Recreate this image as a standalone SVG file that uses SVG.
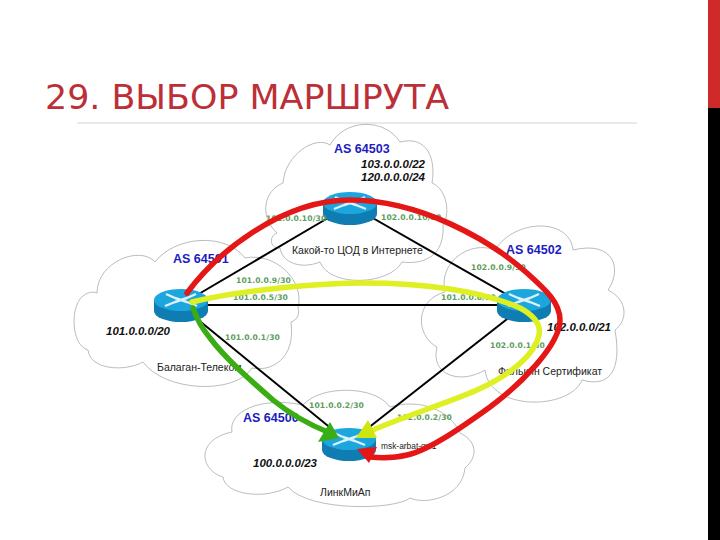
<svg xmlns="http://www.w3.org/2000/svg" width="720" height="540" viewBox="0 0 720 540">
<style>
.cloud{fill:#fff;stroke:#a6acac;stroke-width:.8}
.as{font:bold 12.5px "Liberation Sans",Arial,sans-serif;fill:#1c1cc0}
.pfx{font:italic bold 11.5px "Liberation Sans",Arial,sans-serif;fill:#111}
.ip{font:bold 7.6px "DejaVu Sans",sans-serif;fill:#5c9c5c;letter-spacing:.1px}
.name{font:10.5px "Liberation Sans",Arial,sans-serif;fill:#222}
.link{stroke:#000;stroke-width:2;fill:none}
.route{fill:none;stroke-width:5.5;stroke-linecap:round}
.x{stroke:#fff;stroke-width:2.4;fill:none;opacity:.85}
</style>
<defs>
<g id="router">
<path d="M-27-3V8A27 11 0 0 0 27 8V-3Z" fill="#0f7db2"/>
<ellipse cy="-3" rx="27" ry="11" fill="#1ca6de"/>
<path class="x" d="M-15-9L-6-5M-6-1L-16 3M15-9L6-5M6-1L16 3M-6-5L6-1M6-5L-6-1"/>
</g>
</defs>
<rect width="720" height="540" fill="#fff"/>
<rect x="708" width="12" height="108" fill="#cf2a2a"/>
<rect x="708" y="108" width="12" height="432" fill="#000"/>
<text x="45" y="109" font-family="DejaVu Sans,sans-serif" font-size="34" fill="#bc2f38" textLength="404" lengthAdjust="spacingAndGlyphs">29. ВЫБОР МАРШРУТА</text>
<line x1="77" y1="123" x2="637" y2="123" stroke="#d4d4d4" stroke-width="1"/>

<g id="clouds">
<path class="cloud" d="M283 183C285 155 315 135 330 145C345 118 385 118 400 142C428 135 436 160 432 183C448 190 450 215 443 225C445 255 425 265 402 262C390 285 330 288 320 262C300 270 282 262 280 248C268 248 270 235 277 233C258 215 265 190 283 183Z"/>
<path class="cloud" d="M97 293C97 262 140 245 155 262C175 236 225 232 245 258C275 252 305 280 298 308C300 312 298 320 291 322C296 360 270 372 252 368C235 395 165 392 143 362C125 372 90 370 88 350C72 345 72 315 77 305C80 295 90 290 97 293Z"/>
<path class="cloud" d="M445 292C438 262 470 240 495 250C515 218 570 218 573 250C615 240 622 270 608 290C628 300 628 320 615 330C622 370 610 388 582 380C570 410 490 412 485 370C460 385 430 375 437 347C415 335 415 300 445 292Z"/>
<path class="cloud" d="M232 432C228 412 260 396 303 405C320 385 375 385 390 407C420 398 450 410 460 433C475 440 480 455 465 468C462 498 425 505 410 498C395 510 310 512 288 487C265 500 225 495 223 477C200 470 195 440 232 432Z"/>
</g>

<g id="connectors">
<line class="link" x1="350" y1="205" x2="180" y2="305"/>
<line class="link" x1="350" y1="205" x2="525" y2="305"/>
<line class="link" x1="180" y1="305" x2="525" y2="305"/>
<line class="link" x1="180" y1="305" x2="349" y2="443"/>
<line class="link" x1="525" y1="305" x2="349" y2="443"/>
</g>

<g id="n64503"><use href="#router" x="350" y="206"/>
<text class="as" x="334" y="153">AS 64503</text>
<text class="pfx" x="361" y="168">103.0.0.0/22</text>
<text class="pfx" x="361" y="181">120.0.0.0/24</text>
<text class="ip" x="266" y="221">101.0.0.10/30</text>
<text class="ip" x="381" y="220">102.0.0.10/30</text>
<text class="name" x="292" y="254">Какой-то ЦОД в Интернете</text></g>
<g id="n64501"><use href="#router" x="181" y="303"/>
<text class="as" x="173" y="263">AS 64501</text>
<text class="pfx" x="106" y="335">101.0.0.0/20</text>
<text class="ip" x="236" y="283">101.0.0.9/30</text>
<text class="ip" x="233" y="300">101.0.0.5/30</text>
<text class="ip" x="225" y="340">101.0.0.1/30</text>
<text class="name" x="157" y="371">Балаган-Телеком</text></g>
<g id="n64502"><use href="#router" x="524" y="303"/>
<text class="as" x="506" y="254">AS 64502</text>
<text class="pfx" x="547" y="331">102.0.0.0/21</text>
<text class="ip" x="471" y="270">102.0.0.9/30</text>
<text class="ip" x="441" y="300">101.0.0.6/30</text>
<text class="ip" x="490" y="348">102.0.0.1/30</text>
<text class="name" x="498" y="375">Филькин Сертификат</text></g>
<g id="n64500"><use href="#router" x="349" y="442"/>
<text class="as" x="243" y="422">AS 64500</text>
<text class="pfx" x="253" y="467">100.0.0.0/23</text>
<text class="ip" x="309" y="408">101.0.0.2/30</text>
<text class="ip" x="397" y="420">102.0.0.2/30</text>
<text class="name" x="320" y="496">ЛинкМиАп</text>
<text class="name" x="381" y="449" style="font-size:8.4px">msk-arbat-gw1</text></g>

<g id="routes">
<path class="route" stroke="#e41616" d="M187 293C215 255 280 200 350 200C420 200 490 240 527 273C546 290 560 303 560 320C560 345 520 385 490 407C465 425 430 450 407 455C395 458 380 458 370 457"/>
<polygon fill="#e41616" points="357,449 377,447 369,463"/>
<path class="route" stroke="#deef22" d="M192 302C240 290 320 283 365 283C420 283 480 290 520 308C535 316 541 325 539 335C535 355 510 375 477 390C450 402 400 418 373 430"/>
<polygon fill="#cfe60e" points="368,420 377,438 356,438"/>
<path class="route" stroke="#3bad14" d="M193 308C197 320 205 332 210 338C225 358 250 380 273 400C290 414 310 425 330 433"/>
<polygon fill="#3bad14" points="330,422 339,438 318,442"/>
</g>
</svg>
